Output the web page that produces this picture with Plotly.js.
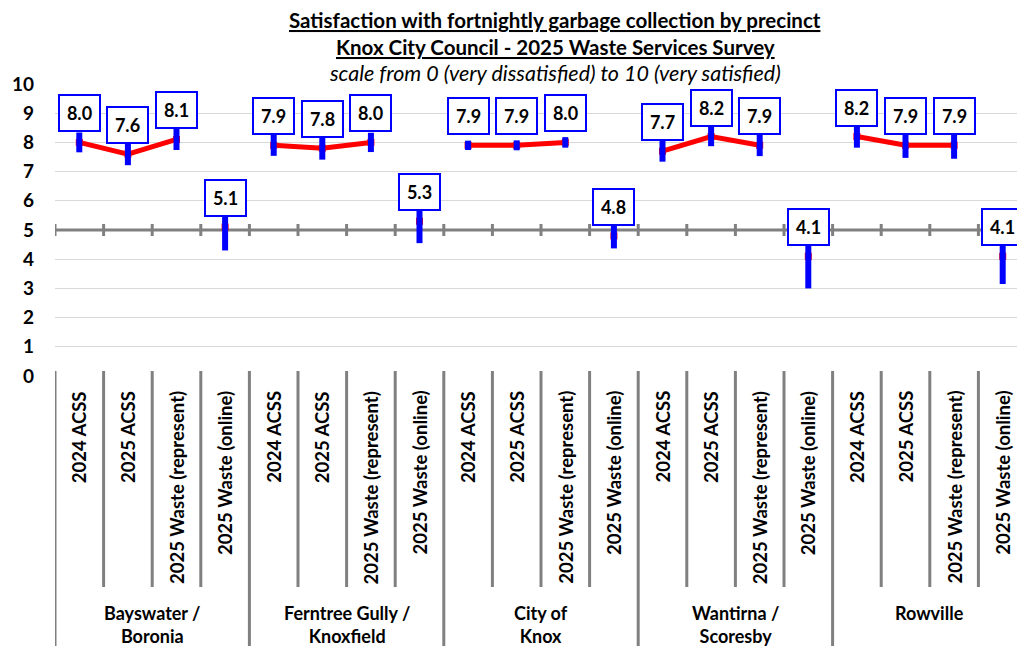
<!DOCTYPE html>
<html>
<head>
<meta charset="utf-8">
<script src="https://cdn.plot.ly/plotly-3.0.1.min.js"></script>
<style>html,body{margin:0;padding:0;overflow:hidden;background:#fff}#chart{width:1017px;height:646px}</style>
</head>
<body>
<div id="chart"></div>
<script>
// ---- data ----
const precincts = ["Bayswater /<br>Boronia", "Ferntree Gully /<br>Knoxfield", "City of<br>Knox", "Wantirna /<br>Scoresby", "Rowville"];
const surveys = ["2024 ACSS", "2025 ACSS", "2025 Waste (represent)", "2025 Waste (online)"];
const acss2024 = [8.0, 7.9, 7.9, 7.7, 8.2];
const acss2025 = [7.6, 7.8, 7.9, 8.2, 7.9];
const wasteRepresent = [8.1, 8.0, 8.0, 7.9, 7.9];
const wasteOnline = [5.1, 5.3, 4.8, 4.1, 4.1];
const ci2024 = [0.34, 0.36, 0.16, 0.36, 0.38];
const ci2025 = [0.38, 0.39, 0.17, 0.33, 0.43];
const ciRepresent = [0.36, 0.33, 0.18, 0.37, 0.46];
const ciOnline = [0.80, 0.75, 0.43, 1.10, 0.95];

// ---- build series ----
const nG = precincts.length, nS = surveys.length;
const lineX = [], lineY = [];
const allX = [], allY = [], allE = [];
const onX = [], onY = [];
for (let g = 0; g < nG; g++) {
  const vals = [acss2024[g], acss2025[g], wasteRepresent[g], wasteOnline[g]];
  const errs = [ci2024[g], ci2025[g], ciRepresent[g], ciOnline[g]];
  for (let s = 0; s < nS; s++) {
    const x = g * nS + s;
    allX.push(x); allY.push(vals[s]); allE.push(errs[s]);
    if (s < 3) { lineX.push(x); lineY.push(vals[s]); }
    else { lineX.push(x); lineY.push(null); onX.push(x); onY.push(vals[s]); }
  }
}

const FONT = "Lato, 'Liberation Sans', sans-serif";
const plotTopPx = 84, plotBotPx = 376, plotH = plotBotPx - plotTopPx;
const py = p => (plotBotPx - p) / plotH; // pixel -> paper y
const leftPx = 55, plotW = 1017 - leftPx;
const px = p => (p - leftPx) / plotW;
const catW = 48.6;
const xMax = plotW / catW - 0.5;

const traces = [
  { x: lineX, y: lineY, mode: 'lines+markers', connectgaps: false,
    line: { color: '#ff0000', width: 5 },
    marker: { color: '#ff0000', symbol: 'square', size: 7 }, hoverinfo: 'skip', showlegend: false },
  { x: onX, y: onY, mode: 'markers',
    marker: { color: '#ff0000', symbol: 'square', size: 7 }, hoverinfo: 'skip', showlegend: false },
  { x: allX, y: allY, mode: 'markers',
    marker: { color: 'rgba(0,0,0,0)', size: 1 },
    error_y: { type: 'data', array: allE, visible: true, color: '#0000ff', thickness: 6, width: 0 },
    hoverinfo: 'skip', showlegend: false }
];

const shapes = [];
const annotations = [];
// axis crossing at 5 with cross ticks
shapes.push({ type: 'line', xref: 'x', yref: 'y', x0: -0.5, x1: nG * nS - 0.5, y0: 5, y1: 5,
  line: { color: '#808080', width: 3 }, layer: 'between' });
for (let i = 0; i <= nG * nS; i++) {
  shapes.push({ type: 'line', xref: 'x', yref: 'y', x0: i - 0.5, x1: i - 0.5, y0: 5 - 6 / 29.2, y1: 5 + 6 / 29.2,
    line: { color: '#808080', width: 3 }, layer: 'between' });
  const isGroup = i % nS === 0;
  shapes.push({ type: 'line', xref: 'x', yref: 'paper', x0: i - 0.5, x1: i - 0.5,
    y0: py(371), y1: isGroup ? py(660) : py(587),
    line: { color: '#808080', width: 3 } });
}
// inner category labels
allX.forEach((x, k) => {
  annotations.push({ xref: 'x', yref: 'paper', x: x, y: py(389), yanchor: 'top', xanchor: 'center',
    text: surveys[k % nS], textangle: -90, showarrow: false,
    font: { family: FONT, size: 18.5, color: '#000', weight: 'bold' } });
});
// group labels
precincts.forEach((p, g) => {
  annotations.push({ xref: 'x', yref: 'paper', x: g * nS + 1.5, y: py(600), yanchor: 'top', xanchor: 'center',
    text: p, showarrow: false, font: { family: FONT, size: 18, color: '#000', weight: 'bold' } });
});
// data labels
allX.forEach((x, k) => {
  annotations.push({ xref: 'x', yref: 'y', x: x, y: allY[k], yanchor: 'bottom', yshift: 10,
    text: allY[k].toFixed(1), showarrow: false, bgcolor: '#ffffff', bordercolor: '#0000ff',
    borderwidth: 2, borderpad: 6, width: 27,
    font: { family: FONT, size: 18, color: '#000', weight: 'bold' } });
});
// titles
annotations.push({ xref: 'paper', yref: 'paper', x: px(555), y: py(20), xanchor: 'center', yanchor: 'middle',
  text: 'Satisfaction with fortnightly garbage collection by precinct', showarrow: false,
  font: { family: FONT, size: 20.5, color: '#000', weight: 'bold', lineposition: 'under' } });
annotations.push({ xref: 'paper', yref: 'paper', x: px(555), y: py(47), xanchor: 'center', yanchor: 'middle',
  text: 'Knox City Council - 2025 Waste Services Survey', showarrow: false,
  font: { family: FONT, size: 20.5, color: '#000', weight: 'bold', lineposition: 'under' } });
annotations.push({ xref: 'paper', yref: 'paper', x: px(555), y: py(73), xanchor: 'center', yanchor: 'middle',
  text: 'scale from 0 (very dissatisfied) to 10 (very satisfied)', showarrow: false,
  font: { family: FONT, size: 21.5, color: '#000', style: 'italic' } });

const layout = {
  width: 1017, height: 646,
  margin: { l: leftPx, r: 0, t: plotTopPx, b: 646 - plotBotPx, pad: 0 },
  paper_bgcolor: '#fff', plot_bgcolor: '#fff',
  showlegend: false,
  xaxis: { range: [-0.5, xMax], showgrid: false, zeroline: false, showticklabels: false, showline: false, ticks: '', fixedrange: true },
  yaxis: { range: [0, 10], dtick: 1, tick0: 0, showgrid: true, gridcolor: '#d9d9d9', gridwidth: 1, zeroline: false,
    showline: false, ticks: '', ticklabelstandoff: 20,
    tickfont: { family: FONT, size: 19, color: '#000', weight: 'bold' }, fixedrange: true },
  shapes: shapes,
  annotations: annotations
};

Plotly.newPlot('chart', traces, layout, { displayModeBar: false, staticPlot: true });
</script>
</body>
</html>
